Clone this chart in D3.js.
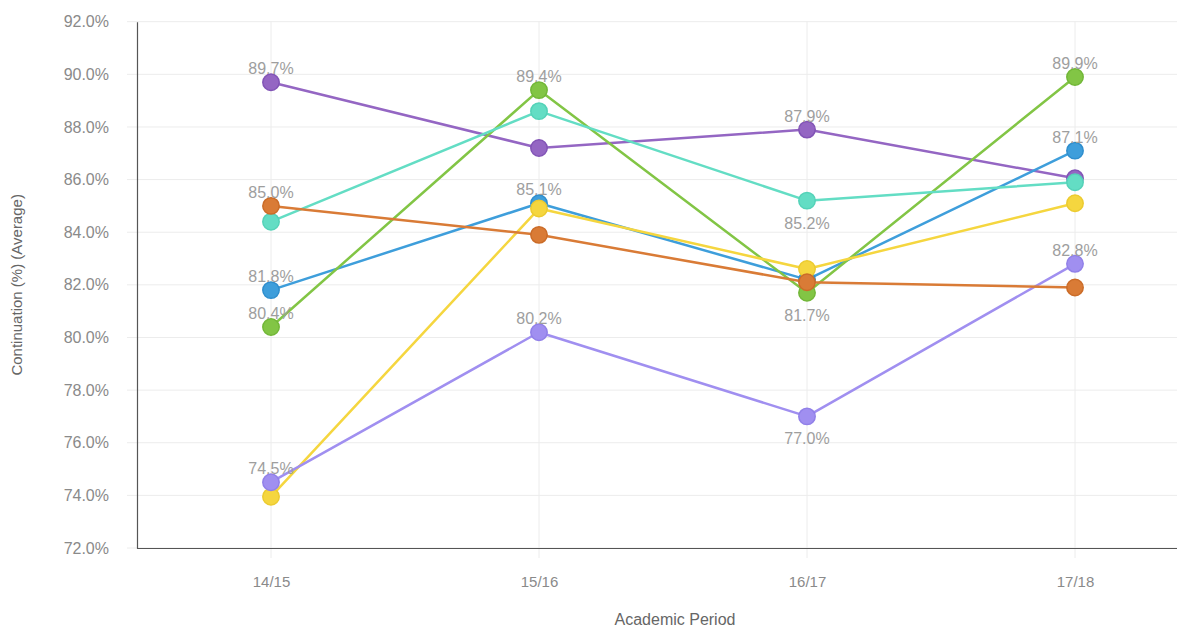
<!DOCTYPE html>
<html>
<head>
<meta charset="utf-8">
<script src="https://cdn.jsdelivr.net/npm/d3@7"></script>
<style>
  html, body { margin: 0; padding: 0; background: #fff; }
  svg { display: block; font-family: "Liberation Sans", Arial, sans-serif; }
</style>
</head>
<body>
<svg id="chart" width="1177" height="630"></svg>
<script>
// Academic periods on the x axis
const periods = ["14/15", "15/16", "16/17", "17/18"];

// Continuation rates (%) per group, one value per period
const seriesPurple   = [89.7, 87.2, 87.9, 86.05];
const seriesBlue     = [81.8, 85.1, 82.2, 87.1];
const seriesGreen    = [80.4, 89.4, 81.7, 89.9];
const seriesYellow   = [73.95, 84.9, 82.6, 85.1];
const seriesLavender = [74.5, 80.2, 77.0, 82.8];
const seriesTeal     = [84.4, 88.6, 85.2, 85.9];
const seriesOrange   = [85.0, 83.9, 82.1, 81.9];

// Y axis tick values
const yTicks = [72, 74, 76, 78, 80, 82, 84, 86, 88, 90, 92];

// Which points carry a value label, and where it sits
const valueLabels = [
  { series: "purple",   period: "14/15", pos: "above" },
  { series: "orange",   period: "14/15", pos: "above" },
  { series: "blue",     period: "14/15", pos: "above" },
  { series: "green",    period: "14/15", pos: "above" },
  { series: "lavender", period: "14/15", pos: "above" },
  { series: "green",    period: "15/16", pos: "above" },
  { series: "blue",     period: "15/16", pos: "above" },
  { series: "lavender", period: "15/16", pos: "above" },
  { series: "purple",   period: "16/17", pos: "above" },
  { series: "teal",     period: "16/17", pos: "below" },
  { series: "green",    period: "16/17", pos: "below" },
  { series: "lavender", period: "16/17", pos: "below" },
  { series: "green",    period: "17/18", pos: "above" },
  { series: "blue",     period: "17/18", pos: "above" },
  { series: "lavender", period: "17/18", pos: "above" }
];

// Drawing order (later ones sit on top)
const series = [
  { key: "purple",   values: seriesPurple,   color: "#9466c3", edge: "#8254b6" },
  { key: "blue",     values: seriesBlue,     color: "#3e9edb", edge: "#2f8ecd" },
  { key: "green",    values: seriesGreen,    color: "#82c545", edge: "#72b738" },
  { key: "yellow",   values: seriesYellow,   color: "#f5d63f", edge: "#eccb30" },
  { key: "lavender", values: seriesLavender, color: "#a08ff0", edge: "#9180e8" },
  { key: "teal",     values: seriesTeal,     color: "#63ddc4", edge: "#54d2b8" },
  { key: "orange",   values: seriesOrange,   color: "#d97b36", edge: "#cb6c28" }
];

const svg = d3.select("#chart");
const W = 1177;
const plotLeft = 137, plotTop = 21.7, plotBottom = 548, plotRight = 1209;

const x = d3.scalePoint().domain(periods).range([plotLeft, plotRight]).padding(0.5);
const y = d3.scaleLinear().domain([72, 92]).range([plotBottom, plotTop]);
const pct = v => d3.format(".1f")(v) + "%";

// Grid
const grid = svg.append("g");
grid.selectAll("line.h").data(yTicks).join("line")
  .attr("class", "h")
  .attr("x1", 127).attr("x2", W)
  .attr("y1", d => y(d)).attr("y2", d => y(d))
  .attr("stroke", "#ececec").attr("stroke-width", 1);
grid.selectAll("line.v").data(periods).join("line")
  .attr("class", "v")
  .attr("x1", d => x(d)).attr("x2", d => x(d))
  .attr("y1", plotTop).attr("y2", plotBottom + 10)
  .attr("stroke", "#ececec").attr("stroke-width", 1);

// Axes
const yAxis = svg.append("g")
  .attr("transform", `translate(${plotLeft},0)`)
  .call(d3.axisLeft(y).tickValues(yTicks).tickFormat(pct).tickSize(0).tickPadding(28));
yAxis.select(".domain").attr("stroke", "#555").attr("stroke-width", 1.2);
yAxis.selectAll("text").attr("fill", "#8a8a8a").style("font-size", "16px");

const xAxis = svg.append("g")
  .attr("transform", `translate(0,${plotBottom})`)
  .call(d3.axisBottom(x).tickSize(0).tickPadding(28));
xAxis.select(".domain").attr("stroke", "#555").attr("stroke-width", 1.2)
  .attr("d", `M${plotLeft},0.5H${W}`);
xAxis.selectAll("text").attr("fill", "#8a8a8a").style("font-size", "15px");

// Axis titles
svg.append("text")
  .attr("x", (plotLeft + W) / 2 + 18).attr("y", 625)
  .attr("text-anchor", "middle")
  .attr("fill", "#666").style("font-size", "16px")
  .text("Academic Period");
svg.append("text")
  .attr("transform", `translate(22,${(plotTop + plotBottom) / 2}) rotate(-90)`)
  .attr("text-anchor", "middle")
  .attr("fill", "#666").style("font-size", "15px")
  .text("Continuation (%) (Average)");

// Lines and markers
const line = d3.line().x((d, i) => x(periods[i])).y(d => y(d));
const layer = svg.append("g");
series.forEach(s => {
  const g = layer.append("g");
  g.append("path")
    .attr("d", line(s.values))
    .attr("fill", "none")
    .attr("stroke", s.color)
    .attr("stroke-width", 2.5)
    .attr("stroke-linejoin", "round");
  g.selectAll("circle").data(s.values).join("circle")
    .attr("cx", (d, i) => x(periods[i]))
    .attr("cy", d => y(d))
    .attr("r", 8.2)
    .attr("fill", s.color)
    .attr("stroke", s.edge)
    .attr("stroke-width", 1.5);
});

// Value labels
const byKey = Object.fromEntries(series.map(s => [s.key, s]));
svg.append("g").selectAll("text").data(valueLabels).join("text")
  .attr("x", d => x(d.period))
  .attr("y", d => {
    const v = byKey[d.series].values[periods.indexOf(d.period)];
    return d.pos === "above" ? y(v) - 8 : y(v) + 28;
  })
  .attr("text-anchor", "middle")
  .attr("fill", "#9e9e9e")
  .style("font-size", "16px")
  .text(d => pct(byKey[d.series].values[periods.indexOf(d.period)]));
</script>
</body>
</html>
